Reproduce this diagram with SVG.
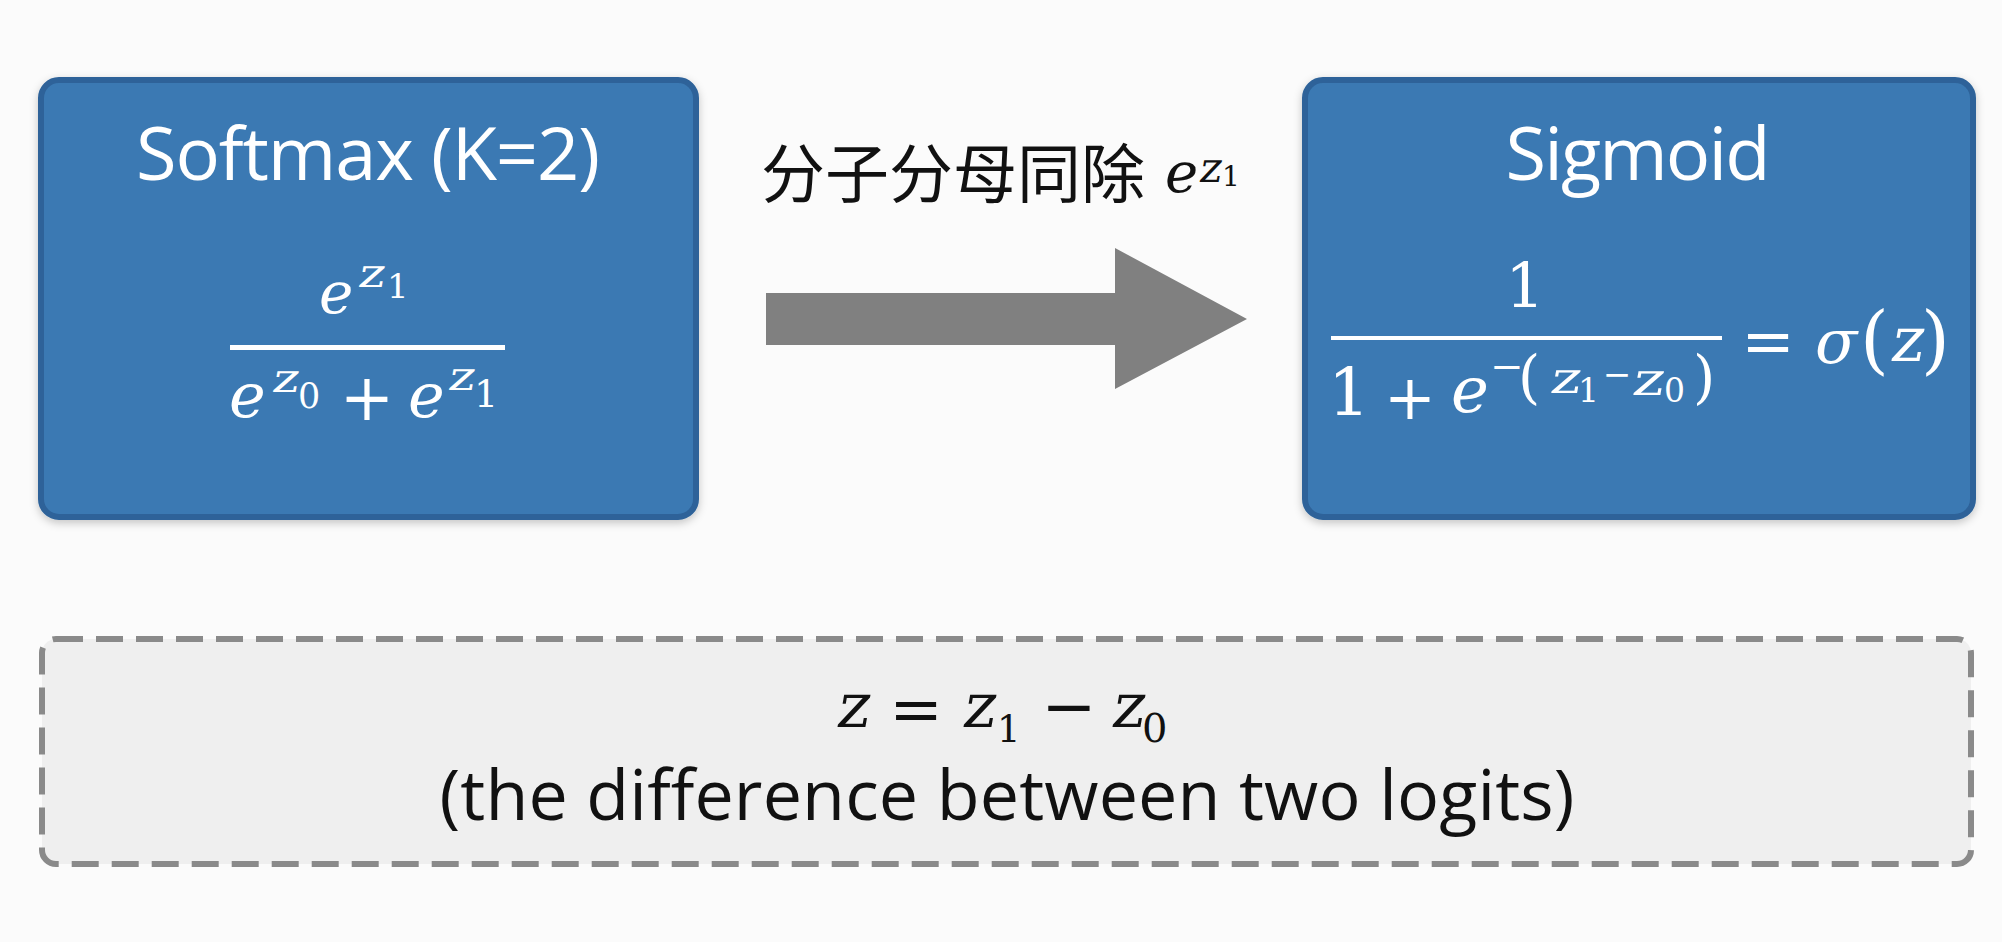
<svg xmlns="http://www.w3.org/2000/svg" width="2002" height="942" viewBox="0 0 2002 942">
<defs>
<filter id="sh" x="-5%" y="-5%" width="110%" height="115%">
<feDropShadow dx="0" dy="3" stdDeviation="4" flood-color="#000" flood-opacity="0.22"/>
</filter>
</defs>
<style>
.bg{fill:#fbfbfb}
.box{fill:#3b79b3;stroke:#2d6299;stroke-width:6}
.dash{fill:#efefef;stroke:#8a8a8a;stroke-width:6;stroke-dasharray:27 13}
.t{font-family:"Open Sans","Noto Sans",sans-serif;fill:#ffffff}
.m{font-family:"DejaVu Serif",serif;font-style:italic;fill:#ffffff}
.u{font-family:"DejaVu Serif",serif;fill:#ffffff}
.k{fill:#111111}
.bar{fill:#ffffff}
.cjk{font-family:"Noto Sans CJK SC",sans-serif;fill:#111111}
.arrow{fill:#808080}
</style>
<rect class="bg" x="0" y="0" width="2002" height="942"/>

<g id="softmax">
<rect class="box" x="41" y="80" width="655" height="437" rx="18" filter="url(#sh)"/>
<text class="t" x="368" y="180" font-size="74" text-anchor="middle" textLength="464">Softmax (K=2)</text>
<text class="m" x="319" y="313" font-size="58">e</text>
<text class="u" transform="translate(357,287) skewX(-10) scale(1.25,1)" font-size="40">z</text>
<text class="u" x="387" y="298" font-size="34">1</text>
<rect class="bar" x="230" y="345" width="275" height="5"/>
<text class="m" x="229" y="417" font-size="62">e</text>
<text class="u" transform="translate(271,392) skewX(-10) scale(1.25,1)" font-size="40">z</text>
<text class="u" x="298" y="408" font-size="35">0</text>
<text class="u" x="367" y="420" font-size="65" text-anchor="middle">+</text>
<text class="m" x="408" y="417" font-size="62">e</text>
<text class="u" transform="translate(447,390) skewX(-10) scale(1.25,1)" font-size="40">z</text>
<text class="u" x="474" y="407" font-size="38">1</text>
</g>

<g id="sigmoid">
<rect class="box" x="1305" y="80" width="668" height="437" rx="18" filter="url(#sh)"/>
<text class="t" x="1638" y="180" font-size="74" text-anchor="middle" textLength="265">Sigmoid</text>
<text class="u" x="1525" y="307" font-size="62" text-anchor="middle">1</text>
<rect class="bar" x="1331" y="336" width="391" height="4"/>
<text class="u" x="1349" y="415" font-size="66" text-anchor="middle">1</text>
<text class="u" x="1410" y="419" font-size="62" text-anchor="middle">+</text>
<text class="m" x="1451" y="412" font-size="64">e</text>
<text class="u" x="1507" y="380" font-size="40" text-anchor="middle">−</text>
<text class="u" x="1518" y="397" font-size="57">(</text>
<text class="u" transform="translate(1549,393) skewX(-10) scale(1.3,1)" font-size="44">z</text>
<text class="u" x="1578" y="402" font-size="33">1</text>
<text class="u" x="1617" y="386" font-size="34" text-anchor="middle">−</text>
<text class="u" transform="translate(1631,395) skewX(-10) scale(1.3,1)" font-size="46">z</text>
<text class="u" x="1664" y="402" font-size="33">0</text>
<text class="u" x="1693" y="397" font-size="57">)</text>
<text class="u" x="1768" y="363" font-size="64" text-anchor="middle">=</text>
<text class="m" x="1815" y="363" font-size="62">σ</text>
<text class="u" x="1860" y="365" font-size="74">(</text>
<text class="u" transform="translate(1889,361) skewX(-10)" font-size="62">z</text>
<text class="u" x="1921" y="365" font-size="74">)</text>
</g>

<g id="connectors">
<polygon class="arrow" points="766,293 1115,293 1115,248 1247,319 1115,389 1115,345 766,345"/>
<text class="cjk" x="761" y="197" font-size="64">分子分母同除</text>
<text class="m k" x="1165" y="192" font-size="56">e</text>
<text class="u k" transform="translate(1198,182) skewX(-10)" font-size="42">z</text>
<text class="u k" x="1222" y="186" font-size="28">1</text>
</g>

<g id="note">
<rect class="dash" x="42" y="639" width="1929" height="225" rx="14"/>
<text class="u k" transform="translate(835,727) skewX(-10)" font-size="62">z</text>
<text class="u k" x="916" y="731" font-size="64" text-anchor="middle">=</text>
<text class="u k" transform="translate(961,727) skewX(-10)" font-size="62">z</text>
<text class="u k" x="997" y="742" font-size="37">1</text>
<text class="u k" x="1069" y="729" font-size="66" text-anchor="middle">−</text>
<text class="u k" transform="translate(1110,727) skewX(-10)" font-size="62">z</text>
<text class="u k" x="1142" y="742" font-size="40">0</text>
<text class="t k" x="1007" y="820" font-size="70" text-anchor="middle" textLength="1135">(the difference between two logits)</text>
</g>
</svg>
